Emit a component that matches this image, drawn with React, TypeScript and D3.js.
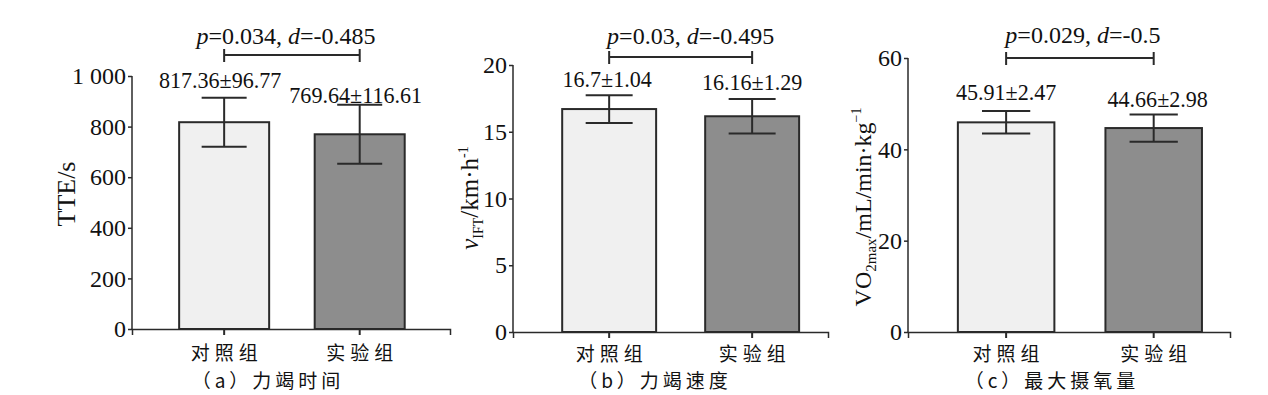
import { useEffect, useRef } from "react";
import * as d3 from "d3";

const width = 1268;
const height = 395;

const groups = ["对照组", "实验组"];
const tteMean = [817.36, 769.64];
const tteSd = [96.77, 116.61];
const speedMean = [16.7, 16.16];
const speedSd = [1.04, 1.29];
const vo2Mean = [45.91, 44.66];
const vo2Sd = [2.47, 2.98];
const tteTicks = [0, 200, 400, 600, 800, 1000];
const speedTicks = [0, 5, 10, 15, 20];
const vo2Ticks = [0, 20, 40, 60];
const pValues = ["0.034", "0.03", "0.029"];
const dValues = ["-0.485", "-0.495", "-0.5"];
const captions = ["（a）力竭时间", "（b）力竭速度", "（c）最大摄氧量"];
const barColors = ["#f0f0f0", "#8d8d8d"];

const serif = "'Liberation Serif', 'Times New Roman', serif";
const cjk = "'Noto Sans CJK SC', sans-serif";
const ink = "#2a2a2a";

// layout for each panel
const panels = [
  {
    mean: tteMean, sd: tteSd, ticks: tteTicks, max: 1000,
    fmt: (d: number) => (d === 1000 ? "1 000" : String(d)),
    x0: 132, x1: 450, yTop: 76, yBottom: 329,
    pi: 0.336, po: 0.341, align: 0.51,
    labelDy: [10, 2], labelDx: [-4, -4],
    bracketY: 55, statY: 44, statDx: -6, capX: 268, groupY: 360,
    titleX: 75, titleY: 194, titleSize: 26,
  },
  {
    mean: speedMean, sd: speedSd, ticks: speedTicks, max: 20,
    fmt: (d: number) => String(d),
    x0: 513, x1: 828, yTop: 65, yBottom: 332,
    pi: 0.343, po: 0.273, align: 0.63,
    labelDy: [8, 9], labelDx: [-2, 0],
    bracketY: 57, statY: 44, statDx: 10, capX: 655, groupY: 361,
    titleX: 478, titleY: 198, titleSize: 25,
  },
  {
    mean: vo2Mean, sd: vo2Sd, ticks: vo2Ticks, max: 60,
    fmt: (d: number) => String(d),
    x0: 908, x1: 1230, yTop: 58, yBottom: 332,
    pi: 0.346, po: 0.264, align: 0.64,
    labelDy: [11, 7], labelDx: [0, 4],
    bracketY: 58, statY: 43, statDx: 3, capX: 1052, groupY: 361,
    titleX: 871, titleY: 207, titleSize: 24,
  },
];

// squeeze a text a bit so it looks like the narrow Times of the figure
const squeeze = (sel: any, k: number) => {
  const node = sel.node() as SVGTextElement;
  const len = node.getComputedTextLength();
  sel.attr("textLength", len * k).attr("lengthAdjust", "spacingAndGlyphs");
};

export default function App() {
  const ref = useRef<SVGSVGElement>(null);

  useEffect(() => {
    document.body.style.margin = "0";
    const svg = d3.select(ref.current);
    svg.selectAll("*").remove();

    panels.forEach((p, pi) => {
      const g = svg.append("g");
      const x = d3
        .scaleBand()
        .domain(groups)
        .range([p.x0, p.x1])
        .paddingInner(p.pi)
        .paddingOuter(p.po)
        .align(p.align);
      const y = d3.scaleLinear().domain([0, p.max]).range([p.yBottom, p.yTop]);

      // bars
      g.selectAll(".bar")
        .data(groups)
        .enter()
        .append("rect")
        .attr("x", (d) => x(d)!)
        .attr("y", (d, i) => y(p.mean[i]))
        .attr("width", x.bandwidth())
        .attr("height", (d, i) => y(0) - y(p.mean[i]))
        .attr("fill", (d, i) => barColors[i])
        .attr("stroke", ink)
        .attr("stroke-width", 2);

      // error bars + value labels
      const cap = x.bandwidth() * 0.5;
      groups.forEach((gr, i) => {
        const cx = x(gr)! + x.bandwidth() / 2;
        const hi = y(p.mean[i] + p.sd[i]);
        const lo = y(p.mean[i] - p.sd[i]);
        g.append("line").attr("x1", cx).attr("x2", cx).attr("y1", hi).attr("y2", lo)
          .attr("stroke", ink).attr("stroke-width", 2);
        [hi, lo].forEach((yy) => {
          g.append("line").attr("x1", cx - cap / 2).attr("x2", cx + cap / 2)
            .attr("y1", yy).attr("y2", yy).attr("stroke", ink).attr("stroke-width", 2);
        });
        const lab = g.append("text")
          .attr("x", cx + p.labelDx[i])
          .attr("y", hi - p.labelDy[i])
          .attr("text-anchor", "middle")
          .attr("font-family", serif)
          .attr("font-size", 24)
          .attr("fill", "#111")
          .text(`${p.mean[i]}±${p.sd[i]}`);
        squeeze(lab, 0.92);
      });

      // y axis
      const yAxis = g.append("g")
        .attr("transform", `translate(${p.x0},0)`)
        .call(d3.axisLeft(y).tickValues(p.ticks).tickFormat((d) => p.fmt(+d)).tickSizeOuter(0).tickSize(4).tickPadding(2));
      yAxis.select(".domain").attr("stroke", ink).attr("stroke-width", 1.5)
        .attr("d", `M0,${p.yTop}V${p.yBottom}`);
      yAxis.selectAll(".tick line").attr("stroke", ink).attr("stroke-width", 1.5);
      yAxis.selectAll(".tick text").attr("font-family", serif).attr("font-size", 24).attr("fill", "#111");

      // x axis
      const xAxis = g.append("g")
        .attr("transform", `translate(0,${p.yBottom})`)
        .call(d3.axisBottom(x).tickSizeOuter(0).tickSize(6).tickFormat(() => ""));
      xAxis.select(".domain").attr("stroke", ink).attr("stroke-width", 1.5);
      xAxis.selectAll(".tick line").attr("stroke", ink).attr("stroke-width", 2);

      groups.forEach((gr) => {
        g.append("text")
          .attr("x", x(gr)! + x.bandwidth() / 2 + 2.5)
          .attr("y", p.groupY)
          .attr("text-anchor", "middle")
          .attr("font-family", cjk)
          .attr("font-size", 19)
          .attr("letter-spacing", 5)
          .attr("fill", "#111")
          .text(gr);
      });

      // caption
      g.append("text")
        .attr("x", p.capX)
        .attr("y", 388)
        .attr("text-anchor", "middle")
        .attr("font-family", cjk)
        .attr("font-size", 19)
        .attr("letter-spacing", 4)
        .attr("fill", "#111")
        .text(captions[pi]);

      // significance bracket
      const bx1 = x(groups[0])! + x.bandwidth() / 2;
      const bx2 = x(groups[1])! + x.bandwidth() / 2;
      g.append("path")
        .attr("d", `M${bx1},${p.bracketY - 6}V${p.bracketY + 7}M${bx1},${p.bracketY}H${bx2}M${bx2},${p.bracketY - 6}V${p.bracketY + 7}`)
        .attr("fill", "none").attr("stroke", ink).attr("stroke-width", 2);
      const st = g.append("text")
        .attr("x", (bx1 + bx2) / 2 + p.statDx)
        .attr("y", p.statY)
        .attr("text-anchor", "middle")
        .attr("font-family", serif)
        .attr("font-size", 24)
        .attr("fill", "#111");
      st.append("tspan").attr("font-style", "italic").text("p");
      st.append("tspan").text(`=${pValues[pi]}, `);
      st.append("tspan").attr("font-style", "italic").text("d");
      st.append("tspan").text(`=${dValues[pi]}`);

      // y title
      const t = g.append("text")
        .attr("transform", `translate(${p.titleX},${p.titleY}) rotate(-90)`)
        .attr("text-anchor", "middle")
        .attr("font-family", serif)
        .attr("font-size", p.titleSize)
        .attr("fill", "#111");
      if (pi === 0) {
        t.text("TTE/s");
      } else if (pi === 1) {
        t.append("tspan").attr("font-style", "italic").text("v");
        t.append("tspan").attr("font-size", 14).attr("dy", 5).text("IFT");
        t.append("tspan").attr("dy", -5).text("/km·h");
        t.append("tspan").attr("font-size", 14).attr("dy", -10).text("-1");
      } else {
        t.append("tspan").text("VO");
        t.append("tspan").attr("font-size", 15).attr("dy", 5).text("2max");
        t.append("tspan").attr("dy", -5).text("/mL/min·kg");
        t.append("tspan").attr("font-size", 14).attr("dy", -10).text("−1");
      }
    });
  }, []);

  return <svg ref={ref} width={width} height={height} style={{ display: "block", background: "#fff" }} />;
}
